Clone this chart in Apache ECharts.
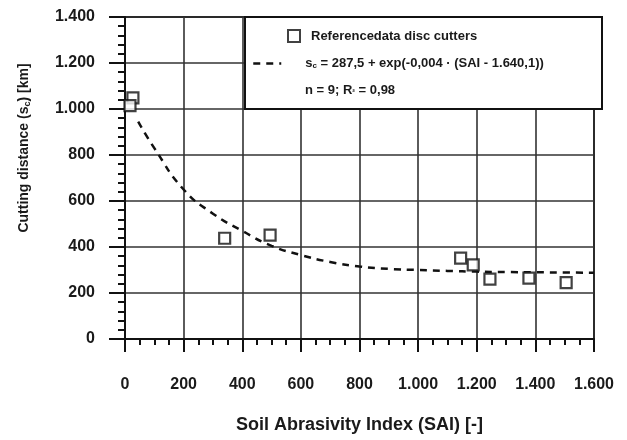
<!DOCTYPE html>
<html><head><meta charset="utf-8">
<script src="https://cdn.jsdelivr.net/npm/echarts@6/dist/echarts.min.js"></script>
<style>html,body{margin:0;padding:0;background:#fff}#c{width:627px;height:440px}</style>
</head><body><div id="c"></div>
<script>
// Measured points (SAI, cutting distance)
var pointSAI = [27, 17, 340, 495, 1145, 1188, 1245, 1378, 1505];
var pointDist = [1048, 1015, 438, 452, 352, 322, 260, 265, 245];
// Fit curve
var curveSAI = [45, 100, 200, 300, 400, 500, 600, 700, 800, 900, 1000, 1100, 1200, 1300, 1400, 1500, 1600];
var curveDist = [945, 830, 650, 545, 470, 405, 365, 335, 315, 305, 300, 296, 293, 291, 290, 289, 288];
var seriesNames = ['Referencedata disc cutters', 's{sub|c} = 287,5 + exp(-0,004 · (SAI - 1.640,1))'];
var statsText = 'n = 9; R{sub|²} = 0,98';
var xTitle = 'Soil Abrasivity Index (SAI) [-]';
var yTitle = 'Cutting distance (s{sub|c}) [km]';

function fmt(v){ return String(v).replace(/\B(?=(\d{3})+(?!\d))/g, '.'); }
function pairs(a,b){ return a.map(function(x,i){ return [x,b[i]]; }); }

var FONT = '"Liberation Sans", Arial, sans-serif';
var INK = '#1a1a1a';
var subRich = {sub:{fontSize:9, fontWeight:'bold', verticalAlign:'bottom', padding:[6,0,0,0], color:INK, fill:INK}};
var chart = echarts.init(document.getElementById('c'));
chart.setOption({
  animation:false,
  textStyle:{fontFamily:FONT},
  grid:{left:125, right:33, top:17, bottom:101, show:true, borderColor:'#111', borderWidth:2, backgroundColor:'transparent'},
  xAxis:{type:'value', min:0, max:1600, interval:200,
    axisLine:{show:true, onZero:false, lineStyle:{color:'#111', width:2}},
    axisTick:{show:true, length:13, lineStyle:{color:'#111', width:2}},
    minorTick:{show:true, splitNumber:4, length:6, lineStyle:{color:'#111', width:2}},
    splitLine:{show:true, lineStyle:{color:'#333', width:1.6}},
    axisLabel:{margin:38, fontSize:16, fontWeight:'bold', color:INK, fontFamily:FONT, formatter:fmt},
    name:xTitle, nameLocation:'middle', nameGap:77,
    nameTextStyle:{fontSize:18, fontWeight:'bold', color:INK, fontFamily:FONT}
  },
  yAxis:{type:'value', min:0, max:1400, interval:200,
    axisLine:{show:true, lineStyle:{color:'#111', width:2}},
    axisTick:{show:true, length:16, lineStyle:{color:'#111', width:2}},
    minorTick:{show:true, splitNumber:5, length:7, lineStyle:{color:'#111', width:2}},
    splitLine:{show:true, lineStyle:{color:'#333', width:1.6}},
    axisLabel:{margin:30, fontSize:16, fontWeight:'bold', color:INK, fontFamily:FONT, formatter:fmt},
    name:yTitle, nameLocation:'middle', nameGap:93,
    nameTextStyle:{fontSize:14, fontWeight:'bold', color:INK, fontFamily:FONT, padding:[0,0,0,60], rich:subRich}
  },
  legend:[
    {orient:'vertical', left:282, top:24, itemWidth:12, itemHeight:12, z:20,
     textStyle:{fontSize:13, fontWeight:'bold', color:INK, fontFamily:FONT, padding:[0,0,0,6]},
     data:[{name:seriesNames[0]}]},
    {orient:'vertical', left:247, top:52, itemWidth:28, itemHeight:12, z:20,
     itemStyle:{opacity:0},
     lineStyle:{color:'#111', width:2.5, type:[7,6]},
     textStyle:{fontSize:13, fontWeight:'bold', color:INK, fontFamily:FONT, padding:[0,0,0,19],
       rich:{sub:{fontSize:8, fontWeight:'bold', verticalAlign:'bottom', padding:[5,0,0,0], color:INK}}},
     data:[{name:seriesNames[1]}]}
  ],
  graphic:[
    {type:'rect', z:10, left:244, top:16, shape:{width:357, height:92}, style:{fill:'#fff', stroke:'#111', lineWidth:2}},
    {type:'text', z:20, left:305, top:84, style:{text:statsText, fontSize:13, fontWeight:'bold', fill:INK, fontFamily:FONT,
      rich:{sub:{fontSize:8, fontWeight:'bold', verticalAlign:'bottom', padding:[5,0,0,0], fill:INK}}}}
  ],
  series:[
    {name:seriesNames[0], type:'scatter', data:pairs(pointSAI, pointDist), symbol:'rect', symbolSize:11,
     itemStyle:{color:'#fff', borderColor:'#111', borderWidth:2.2}, z:5},
    {name:seriesNames[1], type:'line', data:pairs(curveSAI, curveDist), smooth:true, symbol:'none', showSymbol:false,
     lineStyle:{color:'#111', width:2.5, type:[7,6]}, itemStyle:{color:'#111'}, z:4}
  ]
});
</script></body></html>
